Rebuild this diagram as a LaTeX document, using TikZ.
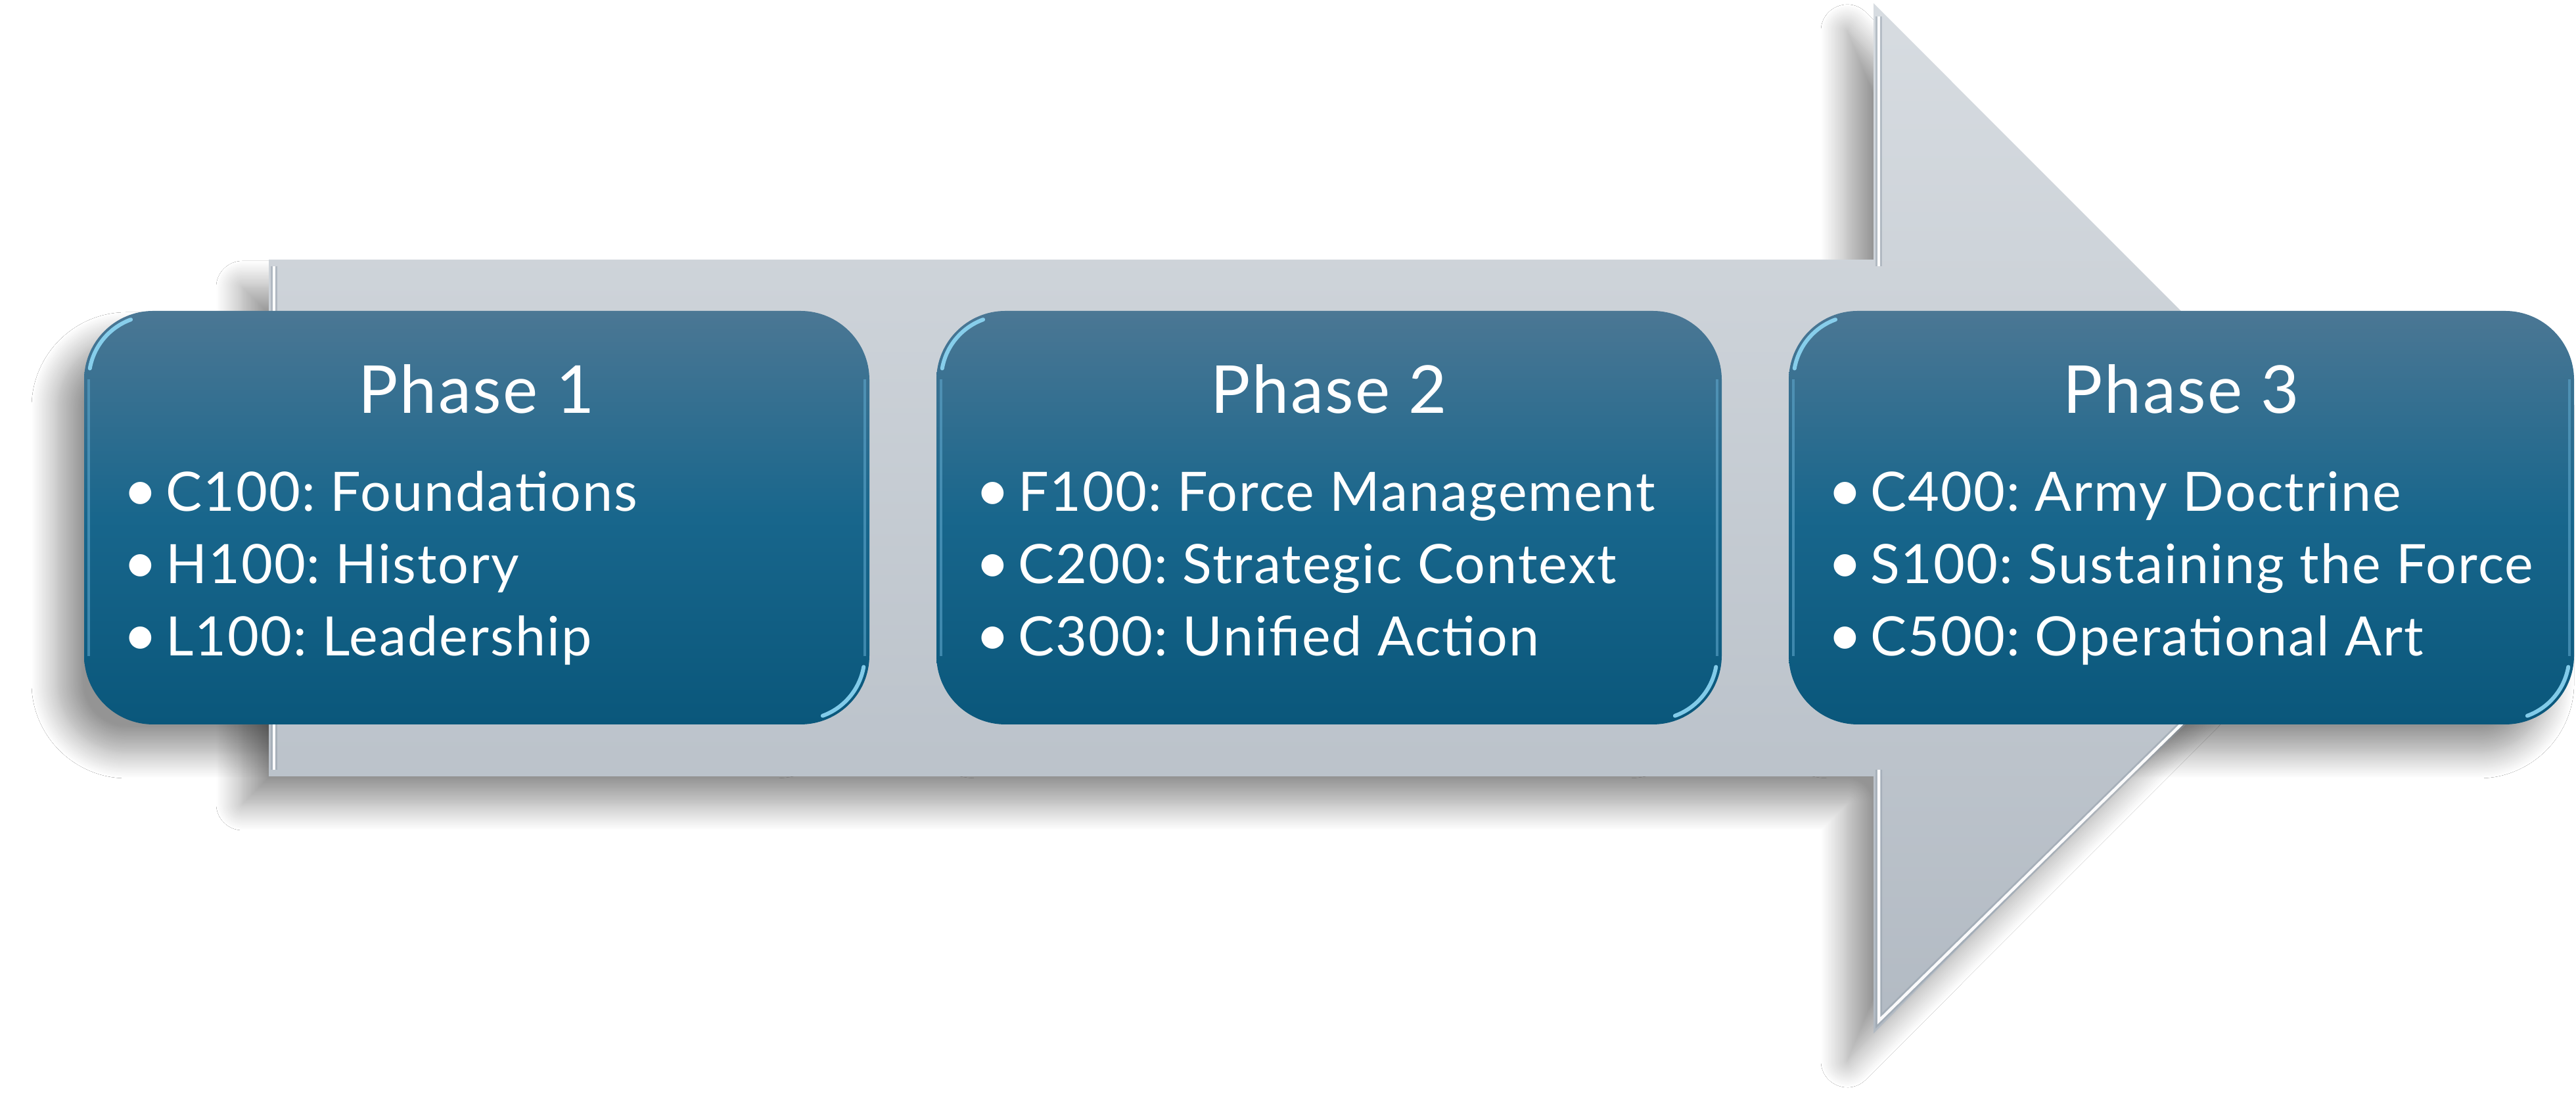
\documentclass[tikz,border=0pt]{standalone}
\usepackage{fontspec}
\setmainfont{Lato}
\newfontfamily\spacedlato[LetterSpace=2.5]{Lato}
\usetikzlibrary{shadows.blur,calc}
\definecolor{boxtop}{HTML}{4B7794}
\definecolor{boxmid}{HTML}{18668C}
\definecolor{boxbot}{HTML}{0A577B}
\definecolor{arrtop}{HTML}{D7DCE1}
\definecolor{arrbot}{HTML}{B2BAC3}
\definecolor{hlblue}{HTML}{8FD8F5}
\definecolor{edgeblue}{HTML}{5EA6CB}
\definecolor{bevgrey}{HTML}{8E9AA6}
\newcommand\mybul{\makebox[0.56cm][l]{\kern-0.09cm\scalebox{1.1}{\textbullet}}}
\tikzset{
 myshadow/.style={blur shadow={shadow xshift=-0.4cm, shadow yshift=-0.42cm, shadow blur radius=0.4cm, shadow blur steps=20, shadow opacity=42}},
 phasebox/.style={rounded corners=1.05cm, minimum width=11.95cm, minimum height=6.29cm, top color=boxtop, bottom color=boxbot, middle color=boxmid, inner sep=0pt, draw=none},
 titletext/.style={font=\spacedlato\fontsize{28.6}{34}\selectfont, text=white, anchor=base, inner sep=0pt},
 itemtext/.style={font=\spacedlato\fontsize{23.5}{28}\selectfont, text=white, anchor=base west, inner sep=0pt},
 bevwhite/.style={white, line width=0.045cm, opacity=0.95},
 bevdark/.style={bevgrey, line width=0.10cm, opacity=0.45},
 boxedge/.style={edgeblue, line width=0.04cm, opacity=0.6},
 boxshine/.style={hlblue, line width=0.06cm, opacity=0.9, line cap=round},
}
\newcommand\phaseblock[6]{%
 \node[phasebox] (#1) at (#2,8.995) {};
 \draw[boxedge] ($(#1.north west)+(0.08,-1.05)$) -- ($(#1.south west)+(0.08,1.05)$);
 \draw[boxedge] ($(#1.north east)+(-0.08,-1.05)$) -- ($(#1.south east)+(-0.08,1.05)$);
 \draw[boxshine] ($(#1.north west)+(1.05,-1.05)$) ++(110:0.97) arc[start angle=110, end angle=170, radius=0.97cm];
 \draw[boxshine] ($(#1.south east)+(-1.05,1.05)$) ++(-70:0.97) arc[start angle=-70, end angle=-10, radius=0.97cm];
 \node[titletext] (#1t) at ($(#1.north)+(0,-1.56)$) {#3};
 \node[itemtext] (#1a) at ($(#1.north west)+(0.68,-3.05)$) {\mybul #4};
 \node[itemtext] (#1b) at ($(#1.north west)+(0.68,-4.15)$) {\mybul #5};
 \node[itemtext] (#1c) at ($(#1.north west)+(0.68,-5.25)$) {\mybul #6};
}
\begin{document}
\frenchspacing
\begin{tikzpicture}
\fill[white] (0,0) rectangle (39.2,16.87);
\useasboundingbox (0,0) rectangle (39.2,16.87);
\coordinate (A1) at (4.09,12.92);
\coordinate (A2) at (28.51,12.92);
\coordinate (A3) at (28.51,16.82);
\coordinate (A4) at (36.34,8.985);
\coordinate (A5) at (28.51,1.15);
\coordinate (A6) at (28.51,5.06);
\coordinate (A7) at (4.09,5.06);
% shadows (behind everything)
\path[myshadow] (A1) -- (A2) -- (A3) -- (A4) -- (A5) -- (A6) -- (A7) -- cycle;
\foreach \cx in {7.255,20.225,33.195}
  \path[myshadow, rounded corners=1.05cm] (\cx-5.975,5.85) rectangle (\cx+5.975,12.14);
% arrow
\shade[top color=arrtop, bottom color=arrbot] (A1) -- (A2) -- (A3) -- (A4) -- (A5) -- (A6) -- (A7) -- cycle;
% bevel highlights
\draw[bevdark] ($(A7)+(0.08,0.1)$) -- ($(A1)+(0.08,-0.1)$);
\draw[bevwhite] ($(A7)+(0.08,0.1)$) -- ($(A1)+(0.08,-0.1)$);
\draw[bevdark] ($(A3)+(0.08,-0.2)$) -- ($(A2)+(0.08,-0.1)$);
\draw[bevwhite] ($(A3)+(0.08,-0.2)$) -- ($(A2)+(0.08,-0.1)$);
\draw[bevdark] ($(A6)+(0.08,0.1)$) -- ($(A5)+(0.08,0.19)$) -- (33.6,6.25);
\draw[bevwhite] ($(A6)+(0.08,0.1)$) -- ($(A5)+(0.08,0.19)$) -- (33.6,6.25);
% phases
\phaseblock{p1}{7.255}{Phase 1}{C100: Foundations}{H100: History}{L100: Leadership}
\phaseblock{p2}{20.225}{Phase 2}{F100: Force Management}{C200: Strategic Context}{C300: Unified Action}
\phaseblock{p3}{33.195}{Phase 3}{C400: Army Doctrine}{S100: Sustaining the Force}{C500: Operational Art}
\end{tikzpicture}
\end{document}
